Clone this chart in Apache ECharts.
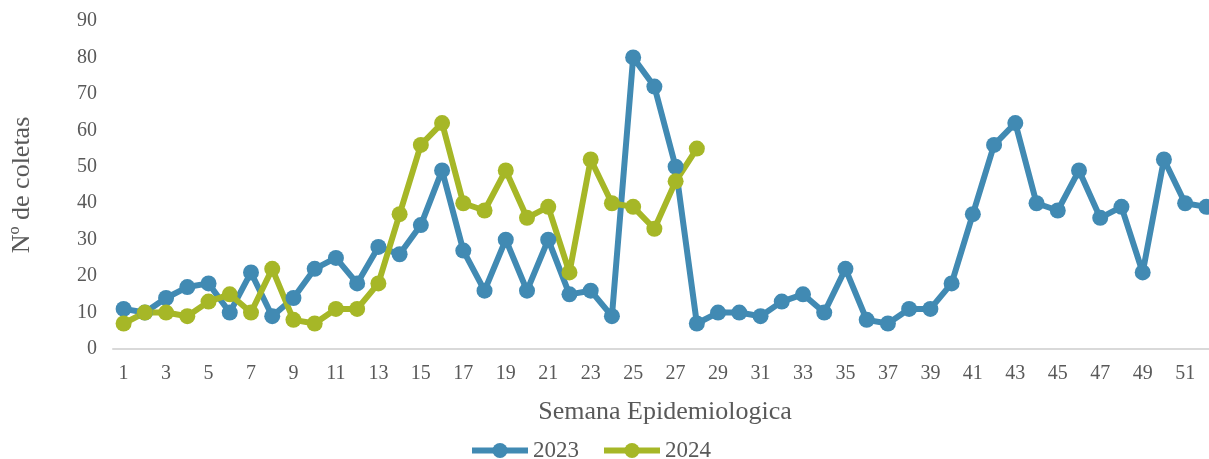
<!DOCTYPE html>
<html><head><meta charset="utf-8">
<script src="https://cdn.jsdelivr.net/npm/echarts@6/dist/echarts.min.js"></script>
<style>html,body{margin:0;padding:0;background:#fff}#c{width:1209px;height:459px}</style>
</head><body><div id="c"></div>
<script>
const weeks = Array.from({length:52},(_,i)=>String(i+1));
const s2023 = [11,10,14,17,18,10,21,9,14,22,25,18,28,26,34,49,27,16,30,16,30,15,16,9,80,72,50,7,10,10,9,13,15,10,22,8,7,11,11,18,37,56,62,40,38,49,36,39,21,52,40,39];
const s2024 = [7,10,10,9,13,15,10,22,8,7,11,11,18,37,56,62,40,38,49,36,39,21,52,40,39,33,46,55];
const font = '"Liberation Serif","Times New Roman",serif';
const chart = echarts.init(document.getElementById('c'));
chart.setOption({
  animation:false,
  grid:{left:113,width:1104,top:21,height:328,containLabel:false,outerBoundsMode:'none'},
  legend:{top:439,left:469,padding:0,itemWidth:56,itemHeight:19,itemGap:22,
    lineStyle:{width:6},
    textStyle:{fontFamily:font,fontSize:23,color:'#595959'},data:['2023','2024']},
  xAxis:{type:'category',data:weeks,boundaryGap:true,
    axisLine:{lineStyle:{color:'#D9D9D9',width:2}},axisTick:{show:false},
    axisLabel:{interval:1,fontFamily:font,fontSize:20,color:'#595959',margin:15},
    name:'Semana Epidemiologica',nameLocation:'middle',nameGap:50,
    nameTextStyle:{fontFamily:font,fontSize:26,color:'#595959'}},
  yAxis:{type:'value',min:0,max:90,interval:10,
    splitLine:{show:false},axisLine:{show:false},axisTick:{show:false},
    axisLabel:{fontFamily:font,fontSize:20,color:'#595959',margin:16},
    name:'Nº de coletas',nameLocation:'middle',nameGap:78,
    nameTextStyle:{fontFamily:font,fontSize:26,color:'#595959'}},
  series:[
    {name:'2023',type:'line',data:s2023,symbol:'circle',symbolSize:16,showAllSymbol:true,
     lineStyle:{width:6,color:'#418AB3'},itemStyle:{color:'#418AB3'}},
    {name:'2024',type:'line',data:s2024,symbol:'circle',symbolSize:16,showAllSymbol:true,
     lineStyle:{width:6,color:'#A6B727'},itemStyle:{color:'#A6B727'}}
  ]
});
</script></body></html>
